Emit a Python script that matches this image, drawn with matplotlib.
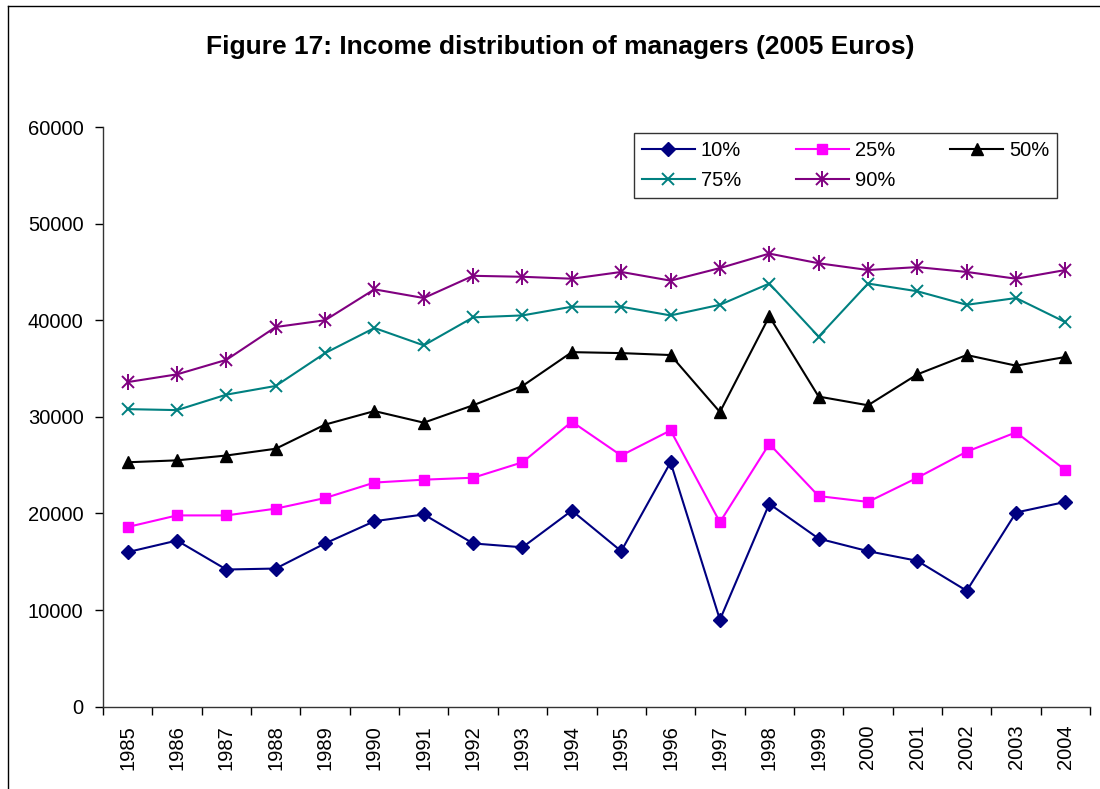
import matplotlib
matplotlib.use("Agg")
import matplotlib.pyplot as plt
from matplotlib.lines import Line2D
import numpy as np

plt.rcParams["font.family"] = ["Liberation Sans", "DejaVu Sans"]

years = [str(y) for y in range(1985, 2005)]
p10 = [16000, 17200, 14200, 14300, 16900, 19200, 19900, 16900, 16500, 20300,
       16100, 25300, 9000, 21000, 17400, 16100, 15100, 12000, 20100, 21200]
p25 = [18600, 19800, 19800, 20500, 21600, 23200, 23500, 23700, 25300, 29500,
       26000, 28600, 19100, 27200, 21800, 21200, 23700, 26400, 28400, 24500]
p50 = [25300, 25500, 26000, 26700, 29200, 30600, 29400, 31200, 33200, 36700,
       36600, 36400, 30500, 40400, 32100, 31200, 34400, 36400, 35300, 36200]
p75 = [30800, 30700, 32300, 33200, 36600, 39200, 37400, 40300, 40500, 41400,
       41400, 40500, 41600, 43800, 38300, 43800, 43000, 41600, 42300, 39800]
p90 = [33600, 34400, 35900, 39300, 40000, 43200, 42300, 44600, 44500, 44300,
       45000, 44100, 45400, 46900, 45900, 45200, 45500, 45000, 44300, 45200]

fig = plt.figure(figsize=(11, 7.89), dpi=100)
ax = fig.add_axes([0.0936, 0.1043, 0.8974, 0.7347])

x = np.arange(len(years))
lw = 1.5
h10, = ax.plot(x, p10, color="#000080", lw=lw, marker="D", ms=7.5)
h25, = ax.plot(x, p25, color="#FF00FF", lw=lw, marker="s", ms=7.5)
h50, = ax.plot(x, p50, color="black", lw=lw, marker="^", ms=9)
h75, = ax.plot(x, p75, color="#008080", lw=lw, marker="x", ms=8.5, mew=1.4)
# excel "star" marker = x plus a vertical bar
h90a, = ax.plot(x, p90, color="#800080", lw=lw, marker="x", ms=8.5, mew=1.4)
h90b, = ax.plot(x, p90, color="#800080", lw=0, marker="|", ms=11, mew=1.4)

ax.set_xlim(-0.5, len(years) - 0.5)
ax.set_ylim(0, 60000)
ax.set_yticks(np.arange(0, 60001, 10000))
ax.set_xticks(x)
ax.set_xticklabels(years, rotation=90, fontsize=14.5)
ax.set_xticks(np.arange(-0.5, len(years)), minor=True)
ax.tick_params(axis="x", which="major", length=0, pad=13)
ax.tick_params(axis="x", which="minor", length=6, width=1, direction="out")
ax.tick_params(axis="y", labelsize=14.5, length=6, width=1, direction="out", pad=8)
for s in ["top", "right"]:
    ax.spines[s].set_visible(False)
for s in ["left", "bottom"]:
    ax.spines[s].set_linewidth(1)
    ax.spines[s].set_color("#333333")

# legend filled row-wise like excel: reorder for matplotlib's column filling
leg = ax.legend([h10, h75, h25, (h90a, h90b), h50],
                ["10%", "75%", "25%", "90%", "50%"],
                ncol=3, loc="upper right", bbox_to_anchor=(0.9666, 0.9897),
                borderaxespad=0, fontsize=14.5, frameon=True, fancybox=False,
                edgecolor="black", handlelength=2.6, columnspacing=2.75,
                handletextpad=0.3, borderpad=0.4, labelspacing=0.55)
leg.get_frame().set_linewidth(1)

fig.text(0.509, 0.94, "Figure 17: Income distribution of managers (2005 Euros)",
         ha="center", va="center", fontsize=19, fontweight="bold")

# outer chart frame (left and top edges visible in the reference)
fig.add_artist(Line2D([8 / 1100, 8 / 1100], [0, 1 - 6 / 789], color="black", lw=1))
fig.add_artist(Line2D([8 / 1100, 1], [1 - 6 / 789, 1 - 6 / 789], color="black", lw=1))

fig.savefig("out.png", dpi=100)
